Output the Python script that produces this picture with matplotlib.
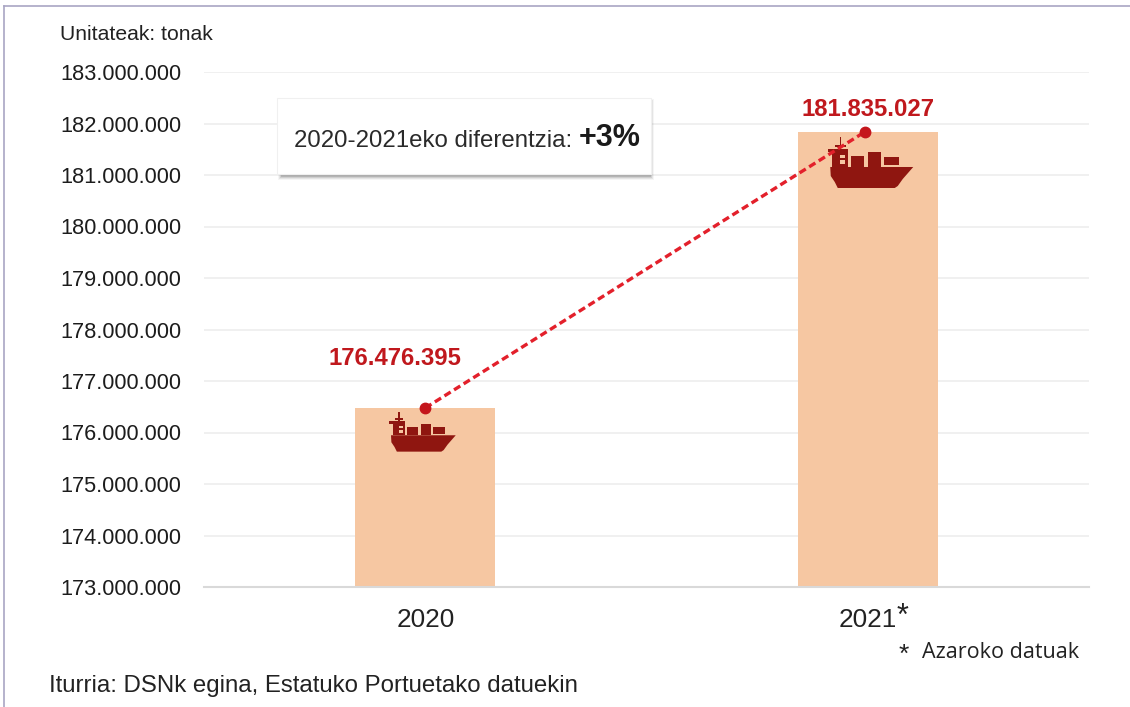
import matplotlib
matplotlib.use("Agg")
import matplotlib.pyplot as plt
from matplotlib.patches import Rectangle, Polygon
from matplotlib.transforms import Affine2D
from matplotlib.ticker import FuncFormatter

# --- Data ---
years = ["2020", "2021"]
tonnes = [176476395, 181835027]
value_labels = ["176.476.395", "181.835.027"]
y_ticks = list(range(173000000, 183000001, 1000000))

W, H = 1130, 707
plt.rcParams['font.family'] = ['Liberation Sans', 'DejaVu Sans']

fig = plt.figure(figsize=(W / 100, H / 100), dpi=100)
ax = fig.add_axes([204 / W, 1 - 587 / H, (1089 - 204) / W, (587 - 72) / H])

# px: reference picture pixels, y measured from the top
px = Affine2D().scale(1, -1).translate(0, H)


def fig_text(x, y, s, **kw):
    fig.text(x / W, 1 - y / H, s, **kw)


# --- Outer frame, only left and top edges show ---
fig.add_artist(plt.Line2D([4 / W, 4 / W], [0, 1 - 6 / H], color='#a9a6c4', lw=1.2))
fig.add_artist(plt.Line2D([4 / W, 1], [1 - 6 / H, 1 - 6 / H], color='#a9a6c4', lw=1.2))

# --- Bars and axes ---
x = [0, 1]
ax.bar(x, tonnes, width=0.316, color='#f6c7a2', zorder=2)
ax.set_xlim(-0.5, 1.5)
ax.set_ylim(173000000, 183000000)
ax.set_yticks(y_ticks)
ax.yaxis.set_major_formatter(FuncFormatter(lambda v, p: f"{int(v):,}".replace(",", ".")))
ax.set_xticks(x)
ax.set_xticklabels(years, fontsize=18.8, color='#222222')
ax.tick_params(axis='y', length=0, labelsize=15.7, labelcolor='#1c1c1c', pad=16.5)
ax.tick_params(axis='x', length=0, pad=15)
ax.grid(axis='y', color='#eeeeee', lw=1.2, zorder=1)
ax.set_axisbelow(True)
for side in ['top', 'right', 'left']:
    ax.spines[side].set_visible(False)
ax.spines['bottom'].set_color('#d9d9d9')
ax.spines['bottom'].set_linewidth(1.5)

# --- Ship icons, anchored on top of each bar (pixels around the anchor) ---
hull = [(-37.5, 35), (45.5, 35), (35, 47), (30, 54), (27, 56), (-30, 56), (-33, 50), (-37, 44)]
blocks = [(-16.5, 24, 13, 11), (0.5, 20, 13, 15), (16.5, 25, 15, 8)]
tower = [(-40, 17, 20, 3), (-35.5, 20, 15.5, 15)]
ship_red = '#8f1610'


def draw_ship(xv, yv, scale, shift):
    cx, cy = ax.transData.transform((xv, yv))
    tr = Affine2D().scale(scale, -scale).translate(cx + shift, cy)
    ax.add_patch(Polygon(hull, closed=True, fc=ship_red, ec='none', transform=tr, zorder=3))
    for bx, by, bw, bh in blocks + tower:
        ax.add_patch(Rectangle((bx, by), bw, bh, fc=ship_red, ec='none', transform=tr, zorder=3))
    ax.add_patch(Rectangle((-27.5, 23), 5, 3, fc='#f6c7a2', ec='none', transform=tr, zorder=3))
    ax.add_patch(Rectangle((-27.5, 28), 5, 4, fc='#f6c7a2', ec='none', transform=tr, zorder=3))
    ax.add_patch(Rectangle((-28, 5), 1.5, 12, fc=ship_red, ec='none', transform=tr, zorder=3))
    ax.add_patch(Rectangle((-33, 13.5), 11, 1.5, fc=ship_red, ec='none', transform=tr, zorder=3))


draw_ship(0, tonnes[0], 0.78, -5)
draw_ship(1, tonnes[1], 1.0, 0)

# --- Dashed trend line between the bar tops ---
line_x = [0, 0.993]
ax.plot(line_x, tonnes, color='#e3202b', ls=(0, (2.2, 1.2)), lw=2.4, zorder=4, clip_on=False)
ax.plot(line_x, tonnes, 'o', color='#c4161c', ms=7.5, zorder=5, clip_on=False)

ax.annotate(value_labels[0], (0, tonnes[0]), xytext=(-30, 49), textcoords='offset pixels',
            ha='center', va='center', fontsize=17.2, fontweight='bold', color='#c0181d')
ax.annotate(value_labels[1], (1, tonnes[1]), xytext=(0, 22), textcoords='offset pixels',
            ha='center', va='center', fontsize=17.2, fontweight='bold', color='#c0181d')

# --- Callout box with soft shadow ---
for grow, a in [(3, 0.06), (2, 0.10), (1, 0.14), (0, 0.22)]:
    fig.add_artist(Rectangle((281 - grow, 102 - grow), 370 + 2 * grow, 75 + 2 * grow,
                             fc='#555555', ec='none', alpha=a, transform=px))
fig.add_artist(Rectangle((277, 98), 374, 76, fc='white', ec='#f0f0f0', lw=0.8, transform=px))
fig_text(294, 141, "2020-2021eko diferentzia:", fontsize=17.3, color='#2a2a2a', va='center')
fig_text(579, 138, "+3%", fontsize=22, fontweight='bold', color='#1a1a1a', va='center')

# --- Notes ---
fig_text(60, 35, "Unitateak: tonak", fontsize=15.2, color='#222222', va='center')
fig_text(897, 617, "*", fontsize=22, color='#222222', va='center')
fig_text(899, 655, "*", fontsize=19, color='#222222', va='center')
fig_text(922, 652, "Azaroko datuak", fontsize=15.5, color='#222222', va='center',
         family=['Open Sans', 'DejaVu Sans'])
fig_text(49, 686, "Iturria: DSNk egina, Estatuko Portuetako datuekin", fontsize=17.3,
         color='#222222', va='center')

fig.savefig("out.png", dpi=100)
